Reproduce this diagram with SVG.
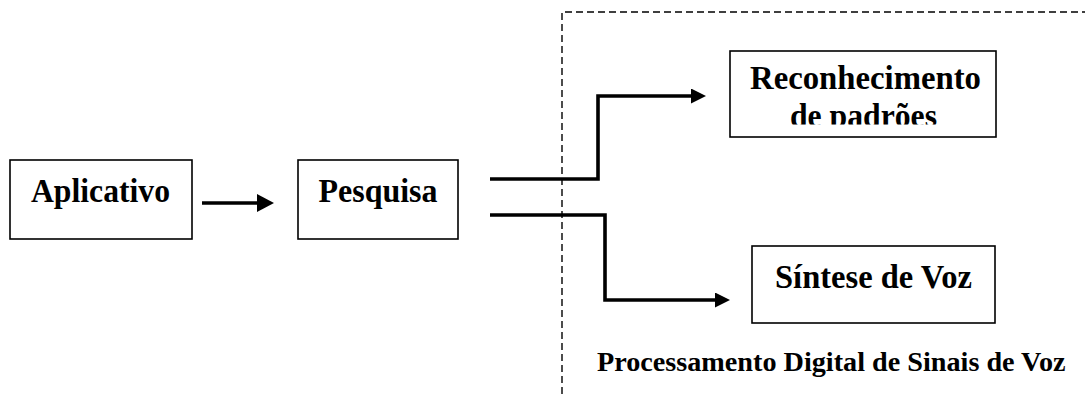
<svg xmlns="http://www.w3.org/2000/svg" width="1085" height="394" viewBox="0 0 1085 394">
<style>
.box{fill:#fff;stroke:#000;stroke-width:1.6}
.t{font-family:"Liberation Serif","Times New Roman",serif;font-weight:bold;font-size:33.5px;fill:#000}
.s{font-size:28.2px}
.conn{fill:none;stroke:#000;stroke-width:3.6;stroke-linejoin:miter}
.dash{fill:none;stroke:#000;stroke-width:1.4;stroke-dasharray:7 4}
</style>
<defs>
<marker id="ah" markerUnits="userSpaceOnUse" markerWidth="16" markerHeight="16" refX="1" refY="7.5" orient="auto">
<path d="M0,0 L15,7.5 L0,15 Z" fill="#000"/>
</marker>
<marker id="ahBig" markerUnits="userSpaceOnUse" markerWidth="18" markerHeight="20" refX="1" refY="9" orient="auto">
<path d="M0,0 L17,9 L0,18 Z" fill="#000"/>
</marker>
<clipPath id="clipRec"><rect x="731" y="49" width="264" height="75.5"/></clipPath>
</defs>
<g id="region">
<path class="dash" d="M562,394 V12 H1085"/>
<text class="t s" x="597" y="371">Processamento Digital de Sinais de Voz</text>
</g>
<g id="node-aplicativo">
<rect class="box" x="10" y="160" width="182" height="79"/>
<text class="t" x="31" y="201.5" textLength="139" lengthAdjust="spacingAndGlyphs">Aplicativo</text>
</g>
<g id="node-pesquisa">
<rect class="box" x="298" y="160" width="160" height="79"/>
<text class="t" x="318.5" y="201.5" textLength="119" lengthAdjust="spacingAndGlyphs">Pesquisa</text>
</g>
<g id="node-reconhecimento">
<rect class="box" x="730" y="51" width="266" height="86"/>
<g clip-path="url(#clipRec)">
<text class="t" x="750" y="89" textLength="231" lengthAdjust="spacingAndGlyphs">Reconhecimento</text>
<text class="t" x="790" y="127" textLength="147" lengthAdjust="spacingAndGlyphs">de padrões</text>
</g>
</g>
<g id="node-sintese">
<rect class="box" x="752" y="246" width="243" height="77"/>
<text class="t" x="775" y="288" textLength="197" lengthAdjust="spacingAndGlyphs">Síntese de Voz</text>
</g>
<g id="connectors">
<path class="conn" d="M202,203 H258" stroke-width="5" marker-end="url(#ahBig)"/>
<path class="conn" d="M490,179 H598 V96 H692" marker-end="url(#ah)"/>
<path class="conn" d="M490,215 H605 V300 H716" marker-end="url(#ah)"/>
</g>
</svg>
